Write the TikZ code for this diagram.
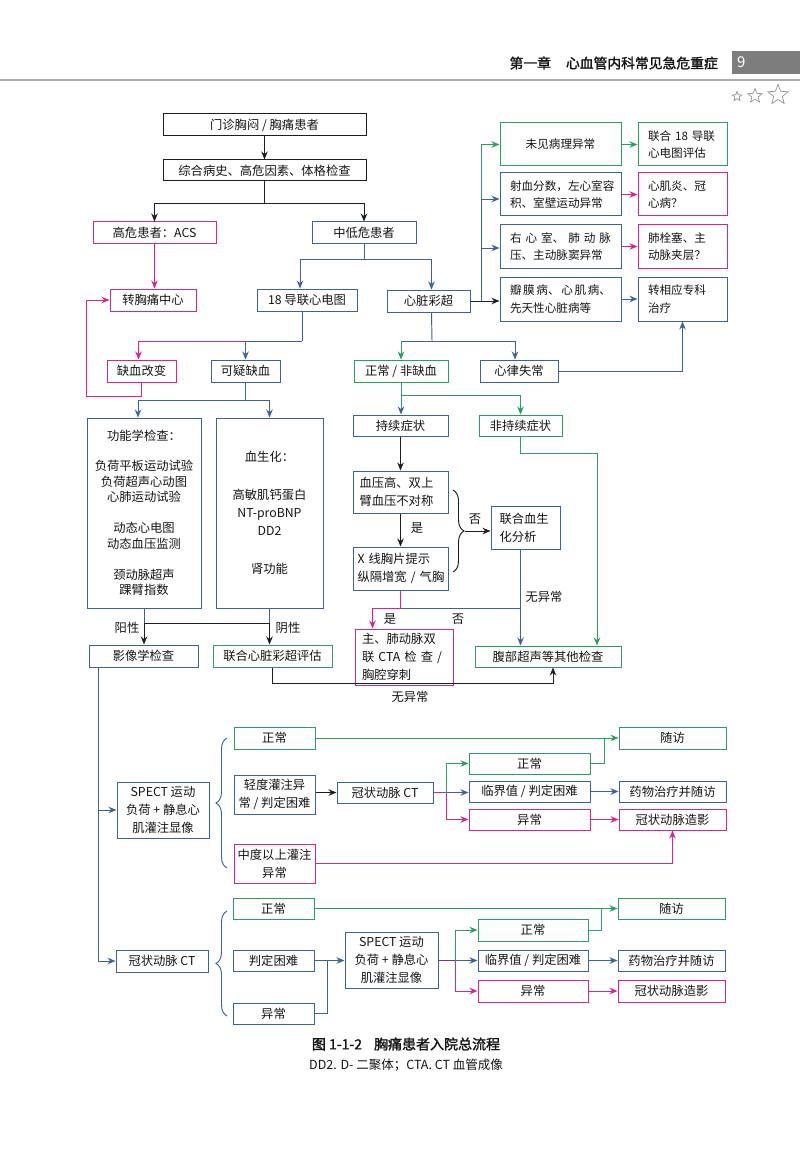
\documentclass[tikz,border=0pt]{standalone}
\usepackage{fontspec}
\setmainfont{Noto Sans CJK SC}
\newfontfamily\hdfont[FakeBold=1.6]{Noto Sans CJK SC}
\usetikzlibrary{arrows.meta,calc,decorations.pathreplacing,shapes.geometric}
\definecolor{cg}{RGB}{40,160,100}
\definecolor{cb}{RGB}{58,98,160}
\definecolor{cm}{RGB}{214,38,140}
\definecolor{ck}{RGB}{30,30,30}
\definecolor{cp}{RGB}{120,50,150}
\definecolor{tx}{RGB}{20,20,20}
\definecolor{hg}{RGB}{125,125,125}
\begin{document}
\begin{tikzpicture}[x=1pt,y=-1pt,
  font=\fontsize{12.3}{18}\selectfont,
  box/.style={draw, line width=1pt, inner sep=0pt, align=center, text=tx},
  G/.style={box, draw=cg}, B/.style={box, draw=cb}, M/.style={box, draw=cm}, K/.style={box, draw=ck},
  wh/.style 2 args={minimum width=#1pt, minimum height=#2pt},
  sm/.style={font=\fontsize{11.6}{17.5}\selectfont},
  lt/.style={align=left, text width=#1pt},
  lg/.style={draw=cg, line width=0.95pt},
  lb/.style={draw=cb, line width=0.95pt},
  lm/.style={draw=cm, line width=0.95pt},
  lk/.style={draw=ck, line width=0.95pt},
  lp/.style={draw=cp, line width=1.3pt},
  arr/.style={-{Stealth[length=8pt,width=6.5pt]}},
  lbl/.style={text=tx, inner sep=1pt},
  brc/.style={decorate, decoration={brace, amplitude=11pt}},
  st/.style={star, star points=5, star point ratio=2.3, draw=gray!85, line width=0.7pt, inner sep=0pt}
]
\useasboundingbox (0,0) rectangle (800,1150);

% header
\node[font=\hdfont\fontsize{13.8}{16}\selectfont, anchor=east, text=tx, inner sep=0pt] (hdr) at (718,63) {第一章\hspace{15pt}心血管内科常见急危重症};
\node[fill=hg, minimum width=68pt, minimum height=23pt, inner sep=0pt, anchor=north west] (pg) at (732,51) {};
\node[text=white, anchor=west, inner sep=0pt, font=\fontsize{15}{15}\selectfont] (pgn) at (737,62.5) {9};
\coordinate (hl1) at (0,80);
\coordinate (hl2) at (800,80);
\draw[gray!65, line width=1.2pt] (hl1) -- (hl2);
\node[st, minimum size=10pt] (s1) at (737,96.5) {};
\node[st, minimum size=15pt] (s2) at (755,96) {};
\node[st, minimum size=21pt] (s3) at (778,95) {};

% top
\node[K, wh={203}{22}] (n1) at (264.5,125) {门诊胸闷 / 胸痛患者};
\node[K, wh={203}{21}] (n2) at (264.5,170.5) {综合病史、高危因素、体格检查};
\node[M, wh={123}{22}] (gw) at (154.5,233) {高危患者：ACS};
\node[B, wh={104}{22}] (lw) at (364,233) {中低危患者};
\node[M, wh={86}{22}] (zx) at (153,300) {转胸痛中心};
\node[B, wh={100}{22}] (ecg) at (307,300) {18 导联心电图};
\node[B, wh={83}{22}] (echo) at (428.5,301) {心脏彩超};

% right panel
\node[G, wh={121}{43}, sm] (r1) at (560.5,144.5) {未见病理异常};
\node[G, wh={89}{43}, sm, lt=69] (r1b) at (682.5,144.5) {联合 18 导联\\心电图评估};
\node[B, wh={121}{43}, sm, lt=101] (r2) at (560.5,194.5) {射血分数，左心室容\\积、室壁运动异常};
\node[M, wh={89}{43}, sm, lt=69] (r2b) at (682.5,194.5) {心肌炎、冠\\心病？};
\node[B, wh={121}{43}, sm, lt=101] (r3) at (560.5,246.5) {\hbox to 101pt{右\hfil 心\hfil 室、\hfil 肺\hfil 动\hfil 脉}\\压、主动脉窦异常};
\node[M, wh={89}{43}, sm, lt=69] (r3b) at (682.5,246.5) {肺栓塞、主\\动脉夹层？};
\node[B, wh={121}{44}, sm, lt=101] (r4) at (560.5,299) {\hbox to 101pt{瓣\hfil 膜\hfil 病、\hfil 心\hfil 肌\hfil 病、}\\先天性心脏病等};
\node[B, wh={89}{44}, sm, lt=69] (r4b) at (682.5,299) {转相应专科\\治疗};

% ecg / echo results
\node[M, wh={69}{22}] (qx) at (141.5,371) {缺血改变};
\node[B, wh={69}{22}] (ky) at (245.5,371) {可疑缺血};
\node[G, wh={94}{22}] (zc) at (401,371) {正常 / 非缺血};
\node[B, wh={78}{22}] (xl) at (519,371) {心律失常};

\node[B, wh={114}{190}, font=\fontsize{12.3}{15.5}\selectfont] (gn) at (144,513) {功能学检查：\\[14.5pt]负荷平板运动试验\\负荷超声心动图\\心肺运动试验\\[15.5pt]动态心电图\\动态血压监测\\[15.5pt]颈动脉超声\\踝臂指数};
\node[B, wh={107}{190}] (xs) at (269.5,513) {血生化：\\[20pt]高敏肌钙蛋白\\NT-proBNP\\DD2\\[20pt]肾功能};
\node[B, wh={109}{22}] (yx) at (143.5,656) {影像学检查};
\node[G, wh={119}{22}] (lh) at (272.5,656) {联合心脏彩超评估};

\node[B, wh={95}{21}] (cx) at (400.5,425.5) {持续症状};
\node[G, wh={83}{21}] (fcx) at (520.5,425.5) {非持续症状};
\node[B, wh={95}{42}, lt=82] (xy) at (400.5,492) {血压高、双上\\臂血压不对称};
\node[B, wh={95}{43}, lt=86] (xp) at (400.5,568.5) {X~线胸片提示\\纵隔增宽~/~气胸};
\node[B, wh={69}{43}, lt=52] (lhx) at (525.5,527.5) {联合血生\\化分析};
\node[M, wh={98}{56}, lt=84] (cta) at (404,657) {主、肺动脉双\\联~CTA~检~查~/\\胸腔穿刺};
\node[G, wh={146}{21}] (fb) at (548,656.5) {腹部超声等其他检查};

% labels
\node[lbl] (lyang) at (127,628) {阳性};
\node[lbl] (lyin) at (288,628) {阴性};
\node[lbl] (lshi1) at (417,528) {是};
\node[lbl] (lfou1) at (475,519) {否};
\node[lbl] (lwyc1) at (544,597) {无异常};
\node[lbl] (lshi2) at (390,619) {是};
\node[lbl] (lfou2) at (458,619) {否};
\node[lbl] (lwyc2) at (410,697) {无异常};

% bottom block 1
\node[B, wh={92}{56}] (sp1) at (163,810) {SPECT 运动\\负荷 + 静息心\\肌灌注显像};
\node[G, wh={81}{22}] (a1) at (274.5,738) {正常};
\node[B, wh={81}{39}] (a2) at (274.5,794.5) {轻度灌注异\\常 / 判定困难};
\node[M, wh={81}{39}] (a3) at (274.5,863.5) {中度以上灌注\\异常};
\node[B, wh={96}{21}] (ct1) at (385,792.5) {冠状动脉 CT};
\node[G, wh={121}{21}] (b1) at (529.5,763.5) {正常};
\node[B, wh={121}{21}] (b2) at (529.5,791.5) {临界值 / 判定困难};
\node[M, wh={121}{21}] (b3) at (529.5,819.5) {异常};
\node[G, wh={107}{22}] (c0) at (672.5,738) {随访};
\node[B, wh={107}{21}] (c2) at (672.5,791.5) {药物治疗并随访};
\node[M, wh={107}{21}] (c3) at (672.5,819.5) {冠状动脉造影};

% bottom block 2
\node[B, wh={92}{22}] (ct2) at (162,961) {冠状动脉 CT};
\node[G, wh={81}{21}] (d1) at (273.5,908.5) {正常};
\node[B, wh={81}{21}] (d2) at (273.5,960.5) {判定困难};
\node[B, wh={81}{21}] (d3) at (273.5,1013.5) {异常};
\node[B, wh={93}{56}] (sp2) at (391.5,960) {SPECT 运动\\负荷 + 静息心\\肌灌注显像};
\node[G, wh={110}{22}] (e1) at (533,930) {正常};
\node[B, wh={110}{21}] (e2) at (533,960.5) {临界值 / 判定困难};
\node[M, wh={110}{22}] (e3) at (533,991) {异常};
\node[G, wh={107}{21}] (f0) at (671.5,908.5) {随访};
\node[B, wh={107}{21}] (f2) at (671.5,960.5) {药物治疗并随访};
\node[M, wh={107}{22}] (f3) at (671.5,991) {冠状动脉造影};

% caption
\node[font=\hdfont\fontsize{14}{16}\selectfont, text=tx] (cap1) at (406,1044) {图 1-1-2\hspace{12pt}胸痛患者入院总流程};
\node[font=\fontsize{12.5}{15}\selectfont, text=tx] (cap2) at (406,1065) {DD2. D- 二聚体；CTA. CT 血管成像};

% ---------- connectors top ----------
\draw[lk, arr] (n1) -- (n2);
\coordinate (j1) at (264.5,203);
\draw[lk] (n2.south) -- (j1);
\draw[lk, arr] (j1) -| (gw.north);
\draw[lk, arr] (j1) -| (lw.north);
\draw[lm, arr] (gw.south) -- (gw.south |- zx.north);
\coordinate (j2) at (364,259);
\draw[lb] (lw.south) -- (j2);
\draw[lb, arr] (j2) -| ($(ecg.north)+(-7,0)$);
\draw[lb, arr] (j2) -| ($(echo.north)+(3,0)$);
\coordinate (j3) at (302,341);
\draw[lb] ($(ecg.south)+(-5,0)$) -- (j3);
\draw[lb, arr] (j3) -| (ky.north);
\draw[lm, arr] (j3 -| ky.north) -| ($(qx.north)+(-3,0)$);
\coordinate (j4) at (432,341);
\draw[lb] ($(echo.south)+(3,0)$) -- (j4);
\draw[lb, arr] (j4) -| ($(xl.north)+(-4,0)$);
\draw[lb] (j4) -- (j4 -| zc.north);
\draw[lg, arr] (j4 -| zc.north) -- (zc.north);

% right panel connectors
\coordinate (t1) at (481,144.5);
\coordinate (t2) at (481,199);
\coordinate (t3) at (481,248);
\coordinate (t4) at (481,301);
\draw[lk, arr] (echo.east) -- (echo.east -| r4.west);
\draw[lb] (t4) -- (t2);
\draw[lg] (t2) -- (t1);
\draw[lg, arr] (t1) -- (r1.west);
\draw[lb, arr] (t2) -- (t2 -| r2.west);
\draw[lb, arr] (t3) -- (t3 -| r3.west);
\draw[lg, arr] (r1) -- (r1b);
\draw[lm, arr] (r2) -- (r2b);
\draw[lm, arr] (r3) -- (r3b);
\draw[lb, arr] (r4) -- (r4b);
\draw[lb, arr] (xl.east) -| (r4b.south);

% ischemia loop back
\coordinate (m1) at (86,396);
\draw[lm, arr] (qx.south) |- (m1) |- (zx.west);

% suspicious ischemia
\coordinate (j5) at (245.5,400);
\draw[lb] (ky.south) -- (j5);
\draw[lb, arr] (j5) -| ($(gn.north)+(-6,0)$);
\draw[lb, arr] (j5) -| (xs.north);
\coordinate (j6) at (144,623);
\coordinate (j7) at (269.5,623);
\draw[lb] (gn.south) -- (j6);
\draw[lb] (xs.south) -- (j7);
\draw[lk] (j6) -- (j7);
\draw[lk, arr] (j6) -- (yx.north -| j6);
\draw[lk, arr] (j7) -- (lh.north -| j7);

% normal branch
\coordinate (j8) at (401,395);
\draw[lg] (zc.south) -- (j8);
\draw[lg] (j8) -- (j8 -| fcx.north);
\draw[lg, -{Stealth[length=8pt,width=6.5pt,color=cb]}] (j8) -- (j8 |- cx.north);
\draw[lg, arr] (j8 -| fcx.north) -- (fcx.north);
\draw[lk, arr] (cx) -- (xy);
\draw[lk, arr] (xy) -- (xp);
\draw[lk, brc] (453,490) -- (453,572);
\coordinate (bt) at (465,531);
\draw[lk, arr] (bt) -- (bt -| lhx.west);
\coordinate (j9) at (400.5,608);
\draw[lm] (xp.south) -- (j9);
\draw[lm, arr] (j9) -| ($(cta.north west)+(18,0)$);
\draw[lb] (j9) -- (j9 -| fcx.south);
\draw[lb, arr] (lhx.south -| fcx.south) -- (fb.north -| fcx.south);
\coordinate (g1) at (520.5,453);
\draw[lg, arr] (fcx.south) -- (g1) -| ($(fb.north)+(49,0)$);
\coordinate (g2) at (553,683);
\draw[lk, arr] (lh.south) |- (g2) -- (g2 |- fb.south);

% ---------- bottom connectors ----------
\coordinate (v0) at (98,667);
\draw[lb, arr] (v0) |- (sp1.west);
\draw[lb, arr] (v0) |- (ct2.west);
\draw[lb, brc] (227,868) -- (227,738);
\draw[lb, brc] (227,1016) -- (227,911);

\draw[lg, arr] (a1.east) -- (c0.west);
\draw[lk, arr] (ct1.west -| a2.east) -- (ct1.west);
\coordinate (k1) at (446,792.5);
\draw[lm] (ct1.east) -- (k1);
\draw[lb, arr] (k1) -- (k1 -| b2.west);
\draw[lg, arr] (k1) |- (b1.west);
\draw[lm, arr] (k1) |- (b3.west);
\coordinate (k2) at (604,738);
\draw[lg] (b1.east) -| (k2);
\draw[lb, arr] (b2.east) -- (c2.west);
\draw[lm, arr] (b3.east) -- (c3.west);
\draw[lm, arr] (a3.east) -| (c3.south);

\draw[lg, arr] (d1.east) -- (f0.west);
\coordinate (k3) at (327,960.5);
\draw[lb, arr] (d2.east) -- (sp2.west |- d2.east);
\draw[lb] (d3.east) -| (k3);
\coordinate (k4) at (455,960.5);
\draw[lp] (sp2.east |- k4) -- (k4);
\draw[lb, arr] (k4) -- (e2.west);
\draw[lg, arr] (k4) |- (e1.west);
\draw[lm, arr] (k4) |- (e3.west);
\coordinate (k5) at (601,908.5);
\draw[lg] (e1.east) -| (k5);
\draw[lb, arr] (e2.east) -- (f2.west);
\draw[lm, arr] (e3.east) -- (f3.west);
\end{tikzpicture}
\end{document}
